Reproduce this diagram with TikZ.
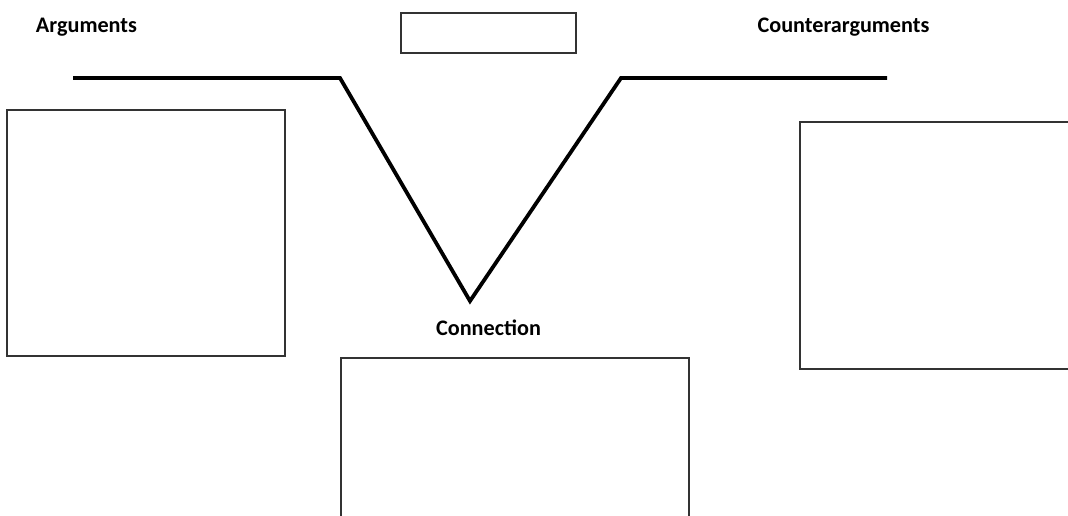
\documentclass[tikz,border=0pt]{standalone}
\usepackage{fontspec}
\setmainfont{Carlito}
\begin{document}
\begin{tikzpicture}[x=1pt,y=-1pt,
  box/.style={draw=black!80,line width=1.6pt,fill=none,inner sep=0pt,anchor=north west},
  title/.style={font=\bfseries\fontsize{22.2}{26}\selectfont,inner sep=0pt},
  vline/.style={line width=3.8pt,line join=miter}]
\useasboundingbox (0,0) rectangle (1068,516);
\clip (0,0) rectangle (1068,516);
% labels
\node[title] (arg) at (86.5,27) {Arguments};
\node[title] (counter) at (843.5,27) {Counterarguments};
\node[title] (conn) at (488.5,328) {Connection};
% boxes
\node[box,minimum width=175pt,minimum height=40pt,line width=2pt] (topbox) at (400,12) {};
\node[box,minimum width=278pt,minimum height=246pt] (leftbox) at (6,109) {};
\node[box,minimum width=290pt,minimum height=247pt] (rightbox) at (799,121) {};
\node[box,minimum width=348pt,minimum height=180pt] (botbox) at (340,357) {};
% V line
\coordinate (a) at (73,78);
\coordinate (b) at (340,78);
\coordinate (c) at (470,301);
\coordinate (d) at (621,78);
\coordinate (e) at (887,78);
\draw[vline] (a) -- (b) -- (c) -- (d) -- (e);
\end{tikzpicture}
\end{document}
